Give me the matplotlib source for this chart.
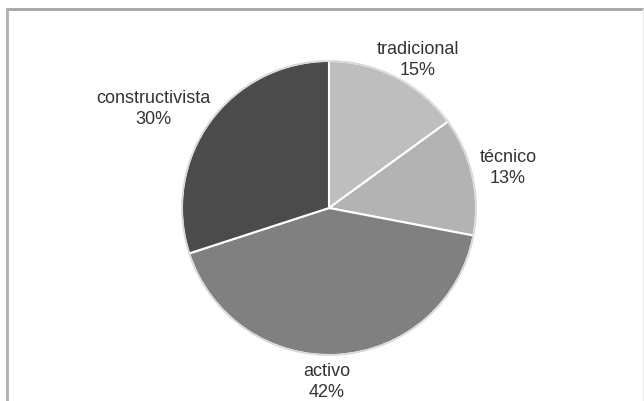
import matplotlib.pyplot as plt
from matplotlib.lines import Line2D

labels = ['tradicional', 'técnico', 'activo', 'constructivista']
shares = [15, 13, 42, 30]
colors = ['#bebebe', '#b3b3b3', '#808080', '#4b4b4b']

plt.rcParams['font.family'] = ['Liberation Sans', 'DejaVu Sans']

fig = plt.figure(figsize=(6.44, 4.02), dpi=100)
fig.patch.set_facecolor('white')

# grey frame: strong top and left edges, faint right edge, no bottom
W, H = 644, 402
fig.add_artist(Line2D([7 / W, 642 / W], [1 - 9.5 / H, 1 - 9.5 / H],
                      transform=fig.transFigure, color='#a3a3a3', lw=2))
fig.add_artist(Line2D([7 / W, 7 / W], [0, 1 - 9.5 / H],
                      transform=fig.transFigure, color='#b0b0b0', lw=2))
fig.add_artist(Line2D([642.5 / W, 642.5 / W], [0, 1 - 9.5 / H],
                      transform=fig.transFigure, color='#ececec', lw=1))

# pie centred at about (329, 209) px, radius ~150 px
ax = fig.add_axes([(329 - 150) / W, (H - 209 - 150) / H, 300 / W, 300 / H])
ax.pie(shares, colors=colors, startangle=90, counterclock=False,
       wedgeprops=dict(edgecolor='white', linewidth=1.5))
ax.pie([1], colors=['none'],
       wedgeprops=dict(edgecolor='#d8d8d8', linewidth=1.2, fill=False))
ax.set_xlim(-1.02, 1.02)
ax.set_ylim(-1.02, 1.02)
ax.set_aspect('equal')

# label positions in pixels (centre of the two-line block)
label_px = [(418, 60), (508, 168), (327, 382), (153, 109)]
for lab, val, (px, py) in zip(labels, shares, label_px):
    fig.text(px / W, 1 - py / H, f'{lab}\n{val}%', ha='center', va='center',
             fontsize=13, color='#333333', linespacing=1.3)

fig.savefig('out.png', dpi=100, facecolor='white')
